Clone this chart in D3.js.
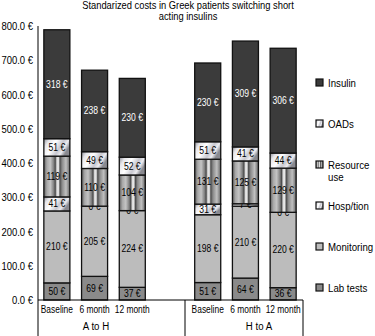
<!DOCTYPE html>
<html>
<head>
<meta charset="utf-8">
<script src="https://cdn.jsdelivr.net/npm/d3@7"></script>
<style>
  body { margin: 0; background: #fff; }
  svg { display: block; font-family: "Liberation Sans", Arial, sans-serif; }
</style>
</head>
<body>
<script>
// chart data
const groups = ["A to H", "H to A"];
const periods = ["Baseline", "6 month", "12 month"];
const seriesNames = ["Lab tests", "Monitoring", "Hosp/tion", "Resource use", "OADs", "Insulin"];
const labTests    = [50, 69, 37, 51, 64, 36];
const monitoring  = [210, 205, 224, 198, 210, 220];
const hospTion    = [41, 0, 0, 31, 7, 0];
const resourceUse = [119, 110, 104, 131, 125, 129];
const oads        = [51, 49, 52, 51, 41, 44];
const insulin     = [318, 238, 230, 230, 309, 306];
const yTicks = [0, 100, 200, 300, 400, 500, 600, 700, 800];

const W = 375, H = 336;
const svg = d3.select("body").append("svg").attr("width", W).attr("height", H);
const defs = svg.append("defs");

// the original font is a narrow sans, squeeze the text horizontally
function narrow(sel, k) {
  sel.each(function () {
    const t = d3.select(this);
    const tx = +t.attr("x") || 0, ty = +t.attr("y") || 0;
    t.attr("x", null).attr("y", null)
      .attr("transform", `translate(${tx},${ty}) scale(${k},1)`);
  });
}

// metallic fills
function grad(id, stops, x2, y2) {
  const g = defs.append("linearGradient").attr("id", id)
    .attr("x1", 0).attr("y1", 0).attr("x2", x2).attr("y2", y2);
  stops.forEach(s => g.append("stop").attr("offset", s[0]).attr("stop-color", s[1]));
}
grad("gResource", [[0, "#5e5e5e"], [0.12, "#a8a8a8"], [0.25, "#c4c4c4"], [0.38, "#808080"],
  [0.44, "#4a4a4a"], [0.5, "#dcdcdc"], [0.56, "#e8e8e8"], [0.62, "#4e4e4e"],
  [0.7, "#8a8a8a"], [0.85, "#c0c0c0"], [1, "#666"]], 1, 0);
grad("gLight", [[0, "#8c8c94"], [0.2, "#e6e6ea"], [0.45, "#ffffff"], [0.7, "#c8c8d0"],
  [0.85, "#ececf0"], [1, "#8a8a90"]], 1, 0.4);

const fills = {
  "Lab tests": "#8a8a8a",
  "Monitoring": "#bcbcbc",
  "Hosp/tion": "url(#gLight)",
  "Resource use": "url(#gResource)",
  "OADs": "url(#gLight)",
  "Insulin": "#3b3b3b"
};

const seriesVals = [labTests, monitoring, hospTion, resourceUse, oads, insulin];
const cats = [];
groups.forEach((g, gi) => {
  periods.forEach((p, pi) => {
    const row = { key: g + "|" + p, period: p, group: g };
    seriesNames.forEach((s, si) => row[s] = seriesVals[si][gi * 3 + pi]);
    cats.push(row);
  });
  if (gi === 0) cats.push({ key: "gap", period: "", group: "" });
});

const x = d3.scaleBand().domain(cats.map(d => d.key)).range([38, 302])
  .paddingInner(0.31).paddingOuter(0.155);
const y = d3.scaleLinear().domain([0, 800]).range([300, 26]);

const stack = d3.stack().keys(seriesNames).value((d, k) => d[k] || 0);
const stacked = stack(cats.filter(d => d.key !== "gap"));

// title
svg.append("text").attr("class", "title").attr("x", 188).attr("y", 9)
  .attr("text-anchor", "middle").attr("font-size", 11)
  .text("Standarized costs in Greek patients switching short");
svg.append("text").attr("class", "title").attr("x", 188).attr("y", 20)
  .attr("text-anchor", "middle").attr("font-size", 11).text("acting insulins");
narrow(svg.selectAll("text.title"), 0.85);

// y axis labels
svg.selectAll("text.ytick").data(yTicks).enter().append("text")
  .attr("class", "ytick")
  .attr("x", 33).attr("y", d => y(d) + 4)
  .attr("text-anchor", "end").attr("font-size", 11)
  .text(d => d3.format(".1f")(d) + " €");
narrow(svg.selectAll("text.ytick"), 0.86);

// bars
const layer = svg.selectAll("g.layer").data(stacked).enter().append("g").attr("class", "layer");
layer.selectAll("rect").data(d => d.map(v => ({ v, key: d.key }))).enter().append("rect")
  .attr("x", d => x(d.v.data.key))
  .attr("y", d => y(d.v[1]))
  .attr("width", x.bandwidth())
  .attr("height", d => y(d.v[0]) - y(d.v[1]))
  .attr("fill", d => fills[d.key])
  .attr("stroke", "#111").attr("stroke-width", 1.3);

layer.selectAll("text").data(d => d.map(v => ({ v, key: d.key }))).enter().append("text")
  .attr("class", "vlab")
  .attr("x", d => x(d.v.data.key) + x.bandwidth() / 2)
  .attr("y", d => y((d.v[0] + d.v[1]) / 2) + 3.5)
  .attr("text-anchor", "middle")
  .attr("font-size", 10)
  .attr("fill", d => d.key === "Insulin" ? "#fff" : "#000")
  .text(d => d.v.data[d.key] + " €");
narrow(svg.selectAll("text.vlab"), 0.86);

// axis lines and category table
svg.append("line").attr("x1", 38).attr("x2", 38).attr("y1", 26).attr("y2", H)
  .attr("stroke", "#000").attr("stroke-width", 1);
svg.append("line").attr("x1", 38).attr("x2", 303).attr("y1", y(0)).attr("y2", y(0))
  .attr("stroke", "#000").attr("stroke-width", 1);
[185, 303].forEach(xx => svg.append("line").attr("x1", xx).attr("x2", xx)
  .attr("y1", y(0)).attr("y2", H).attr("stroke", "#000").attr("stroke-width", 1));

svg.selectAll("text.cat").data(cats.filter(d => d.key !== "gap")).enter().append("text")
  .attr("class", "cat")
  .attr("x", d => x(d.key) + x.bandwidth() / 2)
  .attr("y", 313).attr("text-anchor", "middle").attr("font-size", 10.5)
  .text(d => d.period);
narrow(svg.selectAll("text.cat"), 0.8);

const groupX = [96, 259];
groups.forEach((g, i) => svg.append("text").attr("class", "grp")
  .attr("x", groupX[i]).attr("y", 330)
  .attr("text-anchor", "middle").attr("font-size", 11).text(g));
narrow(svg.selectAll("text.grp"), 0.88);

// legend
const legendItems = seriesNames.slice().reverse();
const legendLines = { "Resource use": ["Resource", "use"] };
const lg = svg.selectAll("g.leg").data(legendItems).enter().append("g")
  .attr("class", "leg")
  .attr("transform", (d, i) => `translate(316,${83 + i * 41})`);
lg.append("rect").attr("x", 0).attr("y", -4).attr("width", 7).attr("height", 7)
  .attr("fill", d => fills[d]).attr("stroke", "#111").attr("stroke-width", 1.2);
lg.each(function (d) {
  const lines = legendLines[d] || [d];
  const t = d3.select(this).append("text")
    .attr("transform", "translate(12,4) scale(0.88,1)").attr("font-size", 11);
  lines.forEach((l, i) => t.append("tspan").attr("x", 0).attr("dy", i === 0 ? 0 : 12).text(l));
});
</script>
</body>
</html>
